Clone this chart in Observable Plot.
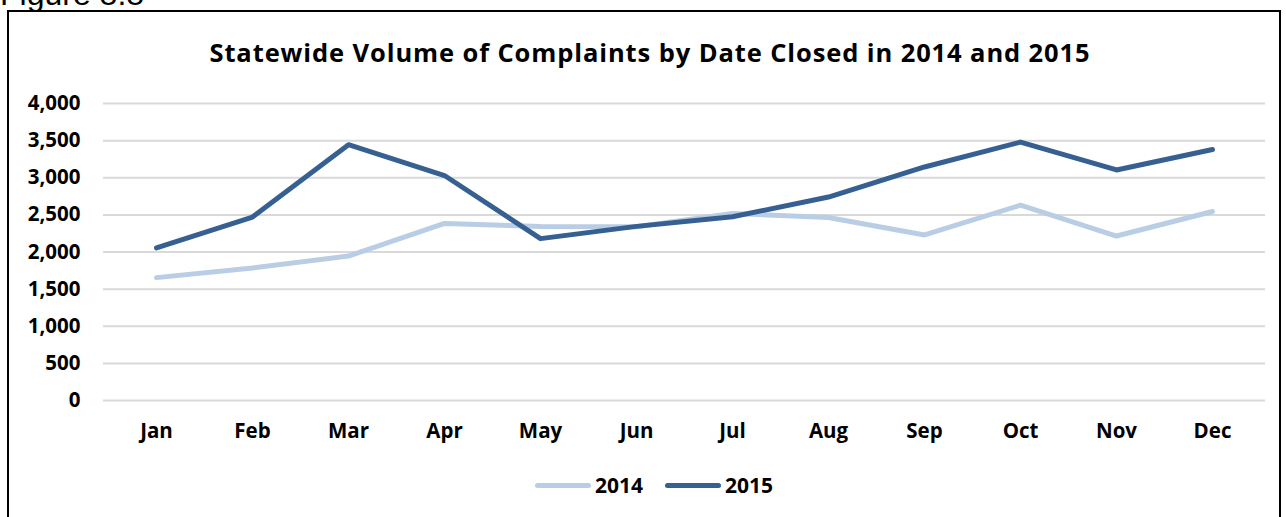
<!DOCTYPE html>
<html>
<head>
<meta charset="utf-8">
<script src="https://cdn.jsdelivr.net/npm/d3@7"></script>
<script src="https://cdn.jsdelivr.net/npm/@observablehq/plot@0.6"></script>
<style>
  html, body { margin: 0; padding: 0; background: #fff; }
  body { width: 1286px; height: 517px; position: relative; overflow: hidden; font-family: "Open Sans", sans-serif; }
  #fig { position: absolute; left: 0; top: -22px; font-family: "Liberation Sans", Arial, sans-serif; font-size: 32px; color: #000; line-height: 1; }
  #frame { position: absolute; left: 7px; top: 10px; width: 1274px; height: 520px; border: 2px solid #000; box-sizing: border-box; }
  #title { position: absolute; left: 0; width: 1300px; top: 35px; text-align: center; font-weight: bold; font-size: 25.5px; color: #000; letter-spacing: 0.9px; }
  #chart { position: absolute; left: 0; top: 0; }
  #legend { position: absolute; top: 471px; left: 0; width: 1286px; display: flex; justify-content: center; align-items: center; font-weight: bold; font-size: 21px; padding-left: 22px; box-sizing: border-box; }
  .item { display: flex; align-items: center; margin: 0 11px; }
  .sw { width: 56px; height: 5px; border-radius: 3px; margin-right: 4px; }
</style>
</head>
<body>
<div id="fig">Figure 8.8</div>
<div id="frame"></div>
<div id="chart"></div>
<div id="title">Statewide Volume of Complaints by Date Closed in 2014 and 2015</div>
<div id="legend"></div>
<script>
const months = ["Jan","Feb","Mar","Apr","May","Jun","Jul","Aug","Sep","Oct","Nov","Dec"];
const series = ["2014", "2015"];
const values2014 = [1655, 1785, 1945, 2385, 2345, 2340, 2520, 2465, 2230, 2630, 2215, 2545];
const values2015 = [2055, 2470, 3445, 3030, 2180, 2345, 2475, 2740, 3145, 3480, 3105, 3380];
const yTicks = [0, 500, 1000, 1500, 2000, 2500, 3000, 3500, 4000];
const colors = ["#B9CDE5", "#376092"];

const data = [];
months.forEach((m, i) => {
  data.push({month: m, year: series[0], value: values2014[i]});
  data.push({month: m, year: series[1], value: values2015[i]});
});

const chart = Plot.plot({
  width: 1286,
  height: 460,
  marginTop: 103,
  marginBottom: 60,
  marginLeft: 103,
  marginRight: 21,
  style: {fontFamily: "'Open Sans', sans-serif", fontWeight: "bold", fontSize: "20.5px", color: "#000", background: "transparent"},
  x: {type: "point", domain: months, padding: 0.5, label: null},
  y: {domain: [0, 4000], label: null},
  color: {domain: series, range: colors},
  marks: [
    Plot.gridY(yTicks, {stroke: "#D9D9D9", strokeOpacity: 1, strokeWidth: 2}),
    Plot.axisY(yTicks, {tickSize: 0, tickPadding: 23, tickFormat: d3.format(","), label: null}),
    Plot.axisX({tickSize: 0, tickPadding: 23, label: null}),
    Plot.line(data, {x: "month", y: "value", z: "year", stroke: "year", strokeWidth: 5, strokeLinecap: "round", strokeLinejoin: "round", curve: "linear"})
  ]
});
document.getElementById("chart").appendChild(chart);

const legend = document.getElementById("legend");
series.forEach((s, i) => {
  const it = document.createElement("div");
  it.className = "item";
  const sw = document.createElement("div");
  sw.className = "sw";
  sw.style.background = colors[i];
  const lab = document.createElement("span");
  lab.textContent = s;
  it.appendChild(sw);
  it.appendChild(lab);
  legend.appendChild(it);
});
</script>
</body>
</html>
